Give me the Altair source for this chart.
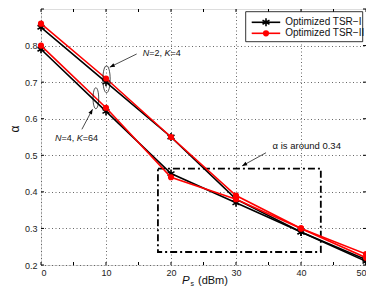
import math
import altair as alt
import pandas as pd

# ---------------- data ----------------
x_vals = [0, 10, 20, 30, 40, 50]
tsr1_n2k4 = [0.85, 0.70, 0.55, 0.38, 0.29, 0.215]
tsr2_n2k4 = [0.86, 0.71, 0.55, 0.39, 0.30, 0.23]
tsr1_n4k64 = [0.79, 0.62, 0.45, 0.37, 0.29, 0.21]
tsr2_n4k64 = [0.80, 0.63, 0.44, 0.38, 0.30, 0.22]
series_names = ["Optimized TSR\u2212I", "Optimized TSR\u2212II"]
series_colors = ["black", "red"]

x_ticks = [0, 5, 10, 15, 20, 25, 30, 35, 40, 45, 50]
y_ticks = [0.2, 0.3, 0.4, 0.5, 0.6, 0.7, 0.8]
y_tick_marks = [0.2, 0.3, 0.4, 0.5, 0.6, 0.7, 0.8, 0.9]

# annotations (data coordinates)
ellipse_x = [10.08, 8.44]
ellipse_y = [0.708, 0.656]
ellipse_h = [27, 21]
arrow_x1 = [14.72, 6.29, 34.62]
arrow_y1 = [0.777, 0.571, 0.507]
arrow_x2 = [10.58, 7.93, 30.94]
arrow_y2 = [0.741, 0.626, 0.471]
label_pieces = [
    [("N", True), ("=2, ", False), ("K", True), ("=4", False)],
    [("N", True), ("=4, ", False), ("K", True), ("=64", False)],
    [("\u03b1 is around 0.34", False)],
]
label_x = [15.64, 2.15, 35.63]
label_y = [0.781, 0.548, 0.525]
box_x = [17.99, 43.05]
box_y = [0.2355, 0.4636]

# ---------------- layout ----------------
W, H = 325, 256
XD = [0, 50]
YD = [0.2, 0.9]
PX_X = W / (XD[1] - XD[0])
PX_Y = H / (YD[1] - YD[0])
FONT = "Liberation Sans"

xscale = alt.Scale(domain=XD, nice=False, zero=False)
yscale = alt.Scale(domain=YD, nice=False, zero=False)
cscale = alt.Scale(domain=series_names, range=series_colors)

rows = []
for name, grp, vals in [
    (series_names[0], "a", tsr1_n2k4),
    (series_names[1], "a", tsr2_n2k4),
    (series_names[0], "b", tsr1_n4k64),
    (series_names[1], "b", tsr2_n4k64),
]:
    for xv, yv in zip(x_vals, vals):
        rows.append({"x": xv, "y": yv, "series": name, "grp": grp + name})
df = pd.DataFrame(rows)

asterisk = "M0,-1L0,1M-0.87,-0.5L0.87,0.5M-0.87,0.5L0.87,-0.5"
ellipse_path = "M0,-1A0.27,1 0 1 1 0,1A0.27,1 0 1 1 0,-1Z"
arrow_path = "M0,0L-0.4,1L0.4,1Z"

layers = []

# frame ticks (inward)
tx = alt.Chart(pd.DataFrame({"t": x_ticks}))
ty = alt.Chart(pd.DataFrame({"t": y_tick_marks}))
first = tx.mark_rule(color="black", strokeWidth=1).encode(
    x=alt.X("t:Q", scale=xscale, title=None,
            axis=alt.Axis(values=x_ticks, grid=True, ticks=False, domain=False,
                          labelFontSize=9, labelPadding=3, labelColor="#222",
                          gridColor="#555", gridDash=[1, 2.5], gridWidth=0.9,
                          labelFont=FONT, title=None)),
    y=alt.value(H), y2=alt.value(H - 3))
layers.append(first)
layers.append(tx.mark_rule(color="black", strokeWidth=1).encode(
    x=alt.X("t:Q", scale=xscale, title=None), y=alt.value(0), y2=alt.value(3)))
layers.append(ty.mark_rule(color="black", strokeWidth=1).encode(
    y=alt.Y("t:Q", scale=yscale, title=None,
            axis=alt.Axis(values=y_ticks, format=".1f", grid=True, ticks=False, domain=False,
                          labelFontSize=9, labelPadding=4, labelColor="#222",
                          gridColor="#555", gridDash=[1, 2.5], gridWidth=0.9,
                          labelFont=FONT, title=None)),
    x=alt.value(0), x2=alt.value(3)))
layers.append(ty.mark_rule(color="black", strokeWidth=1).encode(
    y=alt.Y("t:Q", scale=yscale, title=None), x=alt.value(W - 3), x2=alt.value(W)))

# dash-dot box
layers.append(alt.Chart(pd.DataFrame({"x1": [box_x[0]], "x2": [box_x[1]],
                                      "y1": [box_y[0]], "y2": [box_y[1]]}))
              .mark_rect(filled=False, stroke="black", strokeWidth=1.8,
                         strokeDash=[7, 3, 2, 3])
              .encode(x=alt.X("x1:Q", scale=xscale, title=None), x2="x2:Q",
                      y=alt.Y("y1:Q", scale=yscale, title=None), y2="y2:Q"))

# data lines and markers
base = alt.Chart(df)
for name in series_names:
    sub = base.transform_filter(alt.datum.series == name)
    layers.append(sub.mark_line(strokeWidth=1.6).encode(
        x=alt.X("x:Q", scale=xscale, title=None),
        y=alt.Y("y:Q", scale=yscale, title=None),
        color=alt.Color("series:N", scale=cscale, legend=None),
        detail="grp:N"))
    if name == series_names[0]:
        mk = sub.mark_point(shape=asterisk, filled=False, size=64, strokeWidth=1.6, opacity=1)
    else:
        mk = sub.mark_point(shape="circle", filled=True, size=38, opacity=1)
    layers.append(mk.encode(
        x=alt.X("x:Q", scale=xscale, title=None),
        y=alt.Y("y:Q", scale=yscale, title=None),
        color=alt.Color("series:N", scale=cscale, legend=None)))

# ellipses
layers.append(alt.Chart(pd.DataFrame({"x": ellipse_x, "y": ellipse_y,
                                      "s": [h * h for h in ellipse_h]}))
              .mark_point(shape=ellipse_path, filled=False, color="black",
                          strokeWidth=0.7, opacity=1)
              .encode(x=alt.X("x:Q", scale=xscale, title=None),
                      y=alt.Y("y:Q", scale=yscale, title=None),
                      size=alt.Size("s:Q", scale=None)))

# arrows
angles = []
for a, b, c, d in zip(arrow_x1, arrow_y1, arrow_x2, arrow_y2):
    dx = (c - a) * PX_X
    dy = -(d - b) * PX_Y
    angles.append(math.degrees(math.atan2(dx, -dy)) % 360)
arr = pd.DataFrame({"x1": arrow_x1, "y1": arrow_y1, "x2": arrow_x2, "y2": arrow_y2,
                    "ang": angles})
layers.append(alt.Chart(arr).mark_rule(color="black", strokeWidth=0.7).encode(
    x=alt.X("x1:Q", scale=xscale, title=None), x2="x2:Q",
    y=alt.Y("y1:Q", scale=yscale, title=None), y2="y2:Q"))
layers.append(alt.Chart(arr).mark_point(shape=arrow_path, filled=True, color="black",
                                        size=100, opacity=1).encode(
    x=alt.X("x2:Q", scale=xscale, title=None),
    y=alt.Y("y2:Q", scale=yscale, title=None),
    angle=alt.Angle("ang:Q", scale=None)))

# annotation text pieces
em = {"N": 0.722, "K": 0.667, "=": 0.584, ",": 0.278, " ": 0.278}
for pieces, lx, ly in zip(label_pieces, label_x, label_y):
    fs = 9 if len(pieces) > 1 else 9.5
    off = 0.0
    for txt, ital in pieces:
        layers.append(alt.Chart(pd.DataFrame({"x": [lx], "y": [ly], "t": [txt]}))
                      .mark_text(align="left", baseline="middle", fontSize=fs, font=FONT,
                                 fontStyle="italic" if ital else "normal", dx=off,
                                 color="#111")
                      .encode(x=alt.X("x:Q", scale=xscale, title=None),
                              y=alt.Y("y:Q", scale=yscale, title=None), text="t:N"))
        off += sum(em.get(ch, 0.556) for ch in txt) * fs

# axis titles
one = alt.Chart(pd.DataFrame({"a": [0]}))
layers.append(one.mark_text(text="P", fontStyle="italic", fontSize=11.5, font=FONT,
                            align="left", baseline="alphabetic", color="#111")
              .encode(x=alt.value(141), y=alt.value(275)))
layers.append(one.mark_text(text="s", fontSize=7, font=FONT,
                            align="left", baseline="alphabetic", color="#111")
              .encode(x=alt.value(149.5), y=alt.value(277)))
layers.append(one.mark_text(text="(dBm)", fontSize=11, font=FONT,
                            align="left", baseline="alphabetic", color="#111")
              .encode(x=alt.value(157), y=alt.value(275)))
layers.append(one.mark_text(text="\u03b1", fontSize=12, font=FONT, angle=270,
                            align="center", baseline="middle", color="#111")
              .encode(x=alt.value(-26), y=alt.value(120)))

# legend (drawn)
LX0, LX1, LY0, LY1 = 204.7, 321.7, 2.7, 32.7
layers.append(one.mark_rect(fill="white", stroke="black", strokeWidth=0.8)
              .encode(x=alt.value(LX0), x2=alt.value(LX1), y=alt.value(LY0), y2=alt.value(LY1)))
entry_y = [13.3, 24.3]
for name, col, ey in zip(series_names, series_colors, entry_y):
    ld = alt.Chart(pd.DataFrame({"series": [name]}))
    layers.append(ld.mark_rule(strokeWidth=1.6).encode(
        x=alt.value(LX0 + 6), x2=alt.value(LX0 + 34.5), y=alt.value(ey),
        color=alt.Color("series:N", scale=cscale, legend=None)))
    if col == "black":
        m = ld.mark_point(shape=asterisk, filled=False, size=64, strokeWidth=1.6, opacity=1)
    else:
        m = ld.mark_point(shape="circle", filled=True, size=38, opacity=1)
    layers.append(m.encode(x=alt.value(LX0 + 20.3), y=alt.value(ey),
                           color=alt.Color("series:N", scale=cscale, legend=None)))
    layers.append(ld.mark_text(align="left", baseline="middle", fontSize=10, font=FONT,
                               color="#111")
                  .encode(x=alt.value(LX0 + 39.5), y=alt.value(ey), text="series:N"))

chart = (alt.layer(*layers)
         .properties(width=W, height=H,
                     autosize=alt.AutoSizeParams(type="none"),
                     padding={"left": 33, "top": 1, "right": 0, "bottom": 22})
         .configure_view(stroke="black", strokeWidth=1.3)
         .configure(font=FONT))

chart.save("out.html", embed_options={"renderer": "svg", "actions": False})
